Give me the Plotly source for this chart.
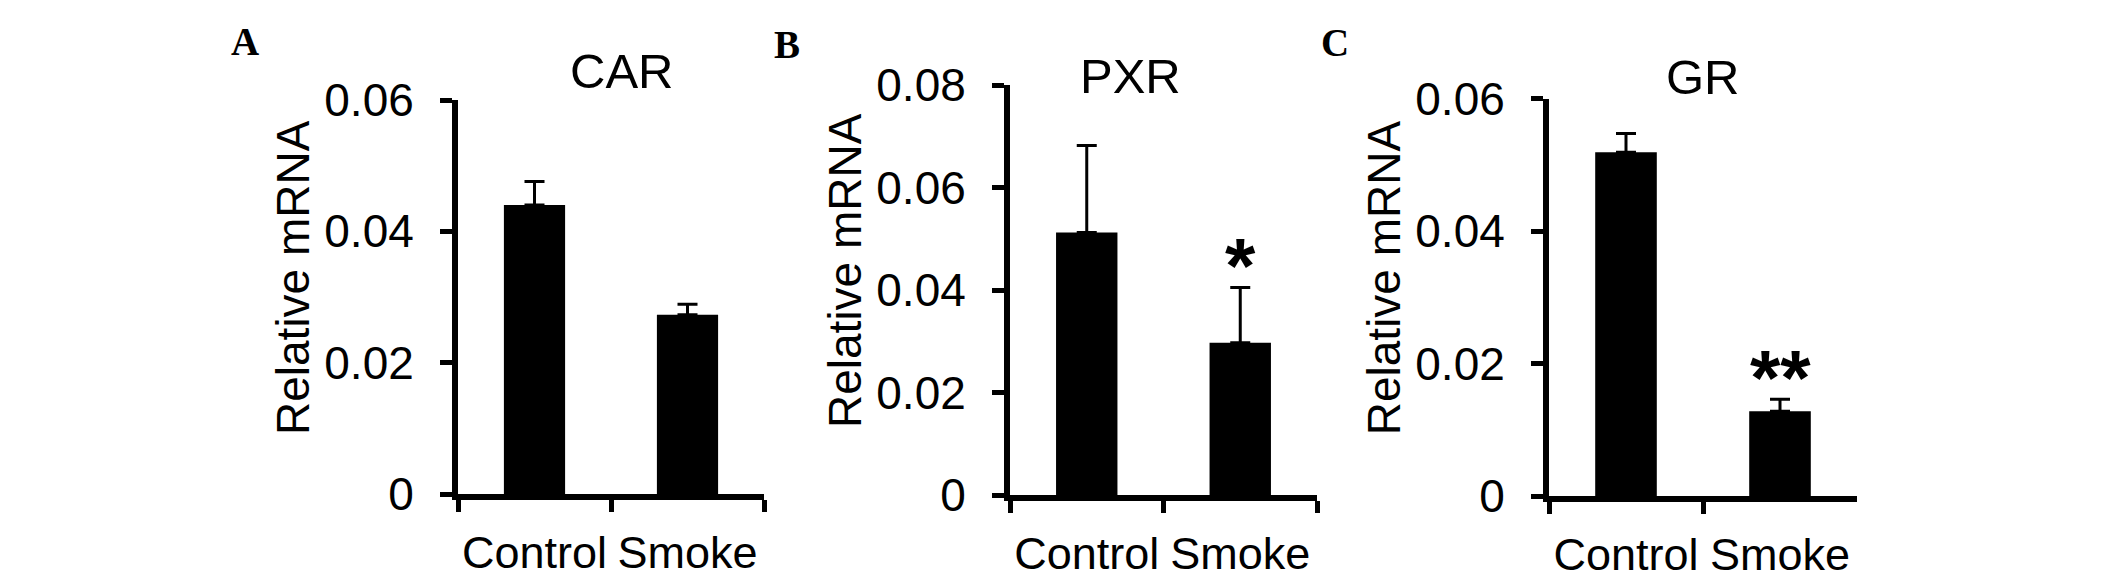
import plotly.graph_objects as go

W, H = 2126, 579
OFF = 8  # default page body margin shifts the figure by this many pixels

categories = ["Control", "Smoke"]

car_values = [0.0440, 0.0273]
car_errors = [0.0036, 0.0016]
pxr_values = [0.0512, 0.0297]
pxr_errors = [0.0170, 0.0108]
gr_values = [0.0519, 0.0128]
gr_errors = [0.0028, 0.0018]

panel_titles = ["CAR", "PXR", "GR"]
panel_letters = ["A", "B", "C"]
significance = ["", "*", "**"]

ytick_vals_a = [0, 0.02, 0.04, 0.06]
ytick_text_a = ["0", "0.02", "0.04", "0.06"]
ytick_vals_b = [0, 0.02, 0.04, 0.06, 0.08]
ytick_text_b = ["0", "0.02", "0.04", "0.06", "0.08"]
ytick_vals_c = [0, 0.02, 0.04, 0.06]
ytick_text_c = ["0", "0.02", "0.04", "0.06"]

FONT = "Arial, Liberation Sans, sans-serif"


def px(x):
    return (x - OFF) / W


def py(y):
    return 1 - (y - OFF) / H


# layout in pixels: left, right, top, bottom of plot areas
boxes = [
    (458, 764, 100, 494),
    (1010, 1317, 85, 495),
    (1549, 1857, 98.5, 496),
]
yranges = [[0, 0.06], [0, 0.08], [0, 0.06]]
yticks = [(ytick_vals_a, ytick_text_a), (ytick_vals_b, ytick_text_b), (ytick_vals_c, ytick_text_c)]
values = [car_values, pxr_values, gr_values]
errors = [car_errors, pxr_errors, gr_errors]
title_centers = [(621, 71), (1130, 76), (1703, 77)]
letter_centers = [(244.5, 42), (787, 45), (1335, 42.5)]

fig = go.Figure()
layout = dict(
    width=W, height=H, autosize=False,
    margin=dict(l=0, r=0, t=0, b=0, autoexpand=False),
    paper_bgcolor="white", plot_bgcolor="white",
    showlegend=False, bargap=0.6,
    font=dict(family=FONT, color="black"),
)
annotations = []

for i in range(3):
    L, R, T, B = boxes[i]
    xa = "x" if i == 0 else f"x{i+1}"
    ya = "y" if i == 0 else f"y{i+1}"
    fig.add_trace(go.Bar(
        x=categories, y=values[i], xaxis=xa, yaxis=ya,
        marker=dict(color="black", line=dict(width=0)),
        error_y=dict(type="data", array=errors[i], arrayminus=[0, 0], symmetric=False,
                     color="black", thickness=3, width=10),
        width=0.4,
    ))
    xkey = "xaxis" if i == 0 else f"xaxis{i+1}"
    ykey = "yaxis" if i == 0 else f"yaxis{i+1}"
    layout[xkey] = dict(
        domain=[px(L), px(R)], anchor=ya, type="category",
        range=[-0.5, 1.5], showline=True, linecolor="black", linewidth=6,
        ticks="outside", tickson="boundaries", ticklen=12, tickwidth=5, tickcolor="black",
        tickfont=dict(size=45, family=FONT, color="black"), tickangle=0,
        showgrid=False, zeroline=False, fixedrange=True, ticklabelstandoff=14,
        automargin=False,
    )
    layout[ykey] = dict(
        domain=[py(B), py(T)], anchor=xa,
        range=yranges[i], showline=True, linecolor="black", linewidth=6,
        ticks="outside", ticklen=12, tickwidth=5, tickcolor="black",
        tickvals=yticks[i][0], ticktext=yticks[i][1],
        tickfont=dict(size=46, family=FONT, color="black"),
        showgrid=False, zeroline=False, fixedrange=True, ticklabelstandoff=17,
        automargin=False,
    )
    tx, ty = title_centers[i]
    annotations.append(dict(
        text=panel_titles[i], xref="paper", yref="paper",
        x=px(tx), y=py(ty), xanchor="center", yanchor="middle",
        showarrow=False, font=dict(size=49, family=FONT, color="black"),
    ))
    lx, ly = letter_centers[i]
    annotations.append(dict(
        text="<b>" + panel_letters[i] + "</b>", xref="paper", yref="paper",
        x=px(lx), y=py(ly), xanchor="center", yanchor="middle",
        showarrow=False, font=dict(size=39, family="Times New Roman, Liberation Serif, serif", color="black"),
    ))
    annotations.append(dict(
        text="Relative mRNA", xref="paper", yref="paper",
        x=px(L - 165), y=py((T + B) / 2 - 19), xanchor="center", yanchor="middle",
        textangle=-90, showarrow=False, font=dict(size=46, family=FONT, color="black"),
    ))
    if significance[i]:
        top = values[i][1] + errors[i][1]
        annotations.append(dict(
            text="<b>" + significance[i] + "</b>", xref=xa, yref=ya,
            x=categories[1], y=top, xanchor="center", yanchor="bottom", yshift=-25,
            showarrow=False, font=dict(size=78, family=FONT, color="black"),
        ))

layout["annotations"] = annotations
fig.update_layout(**layout)
fig.write_html("out.html")
